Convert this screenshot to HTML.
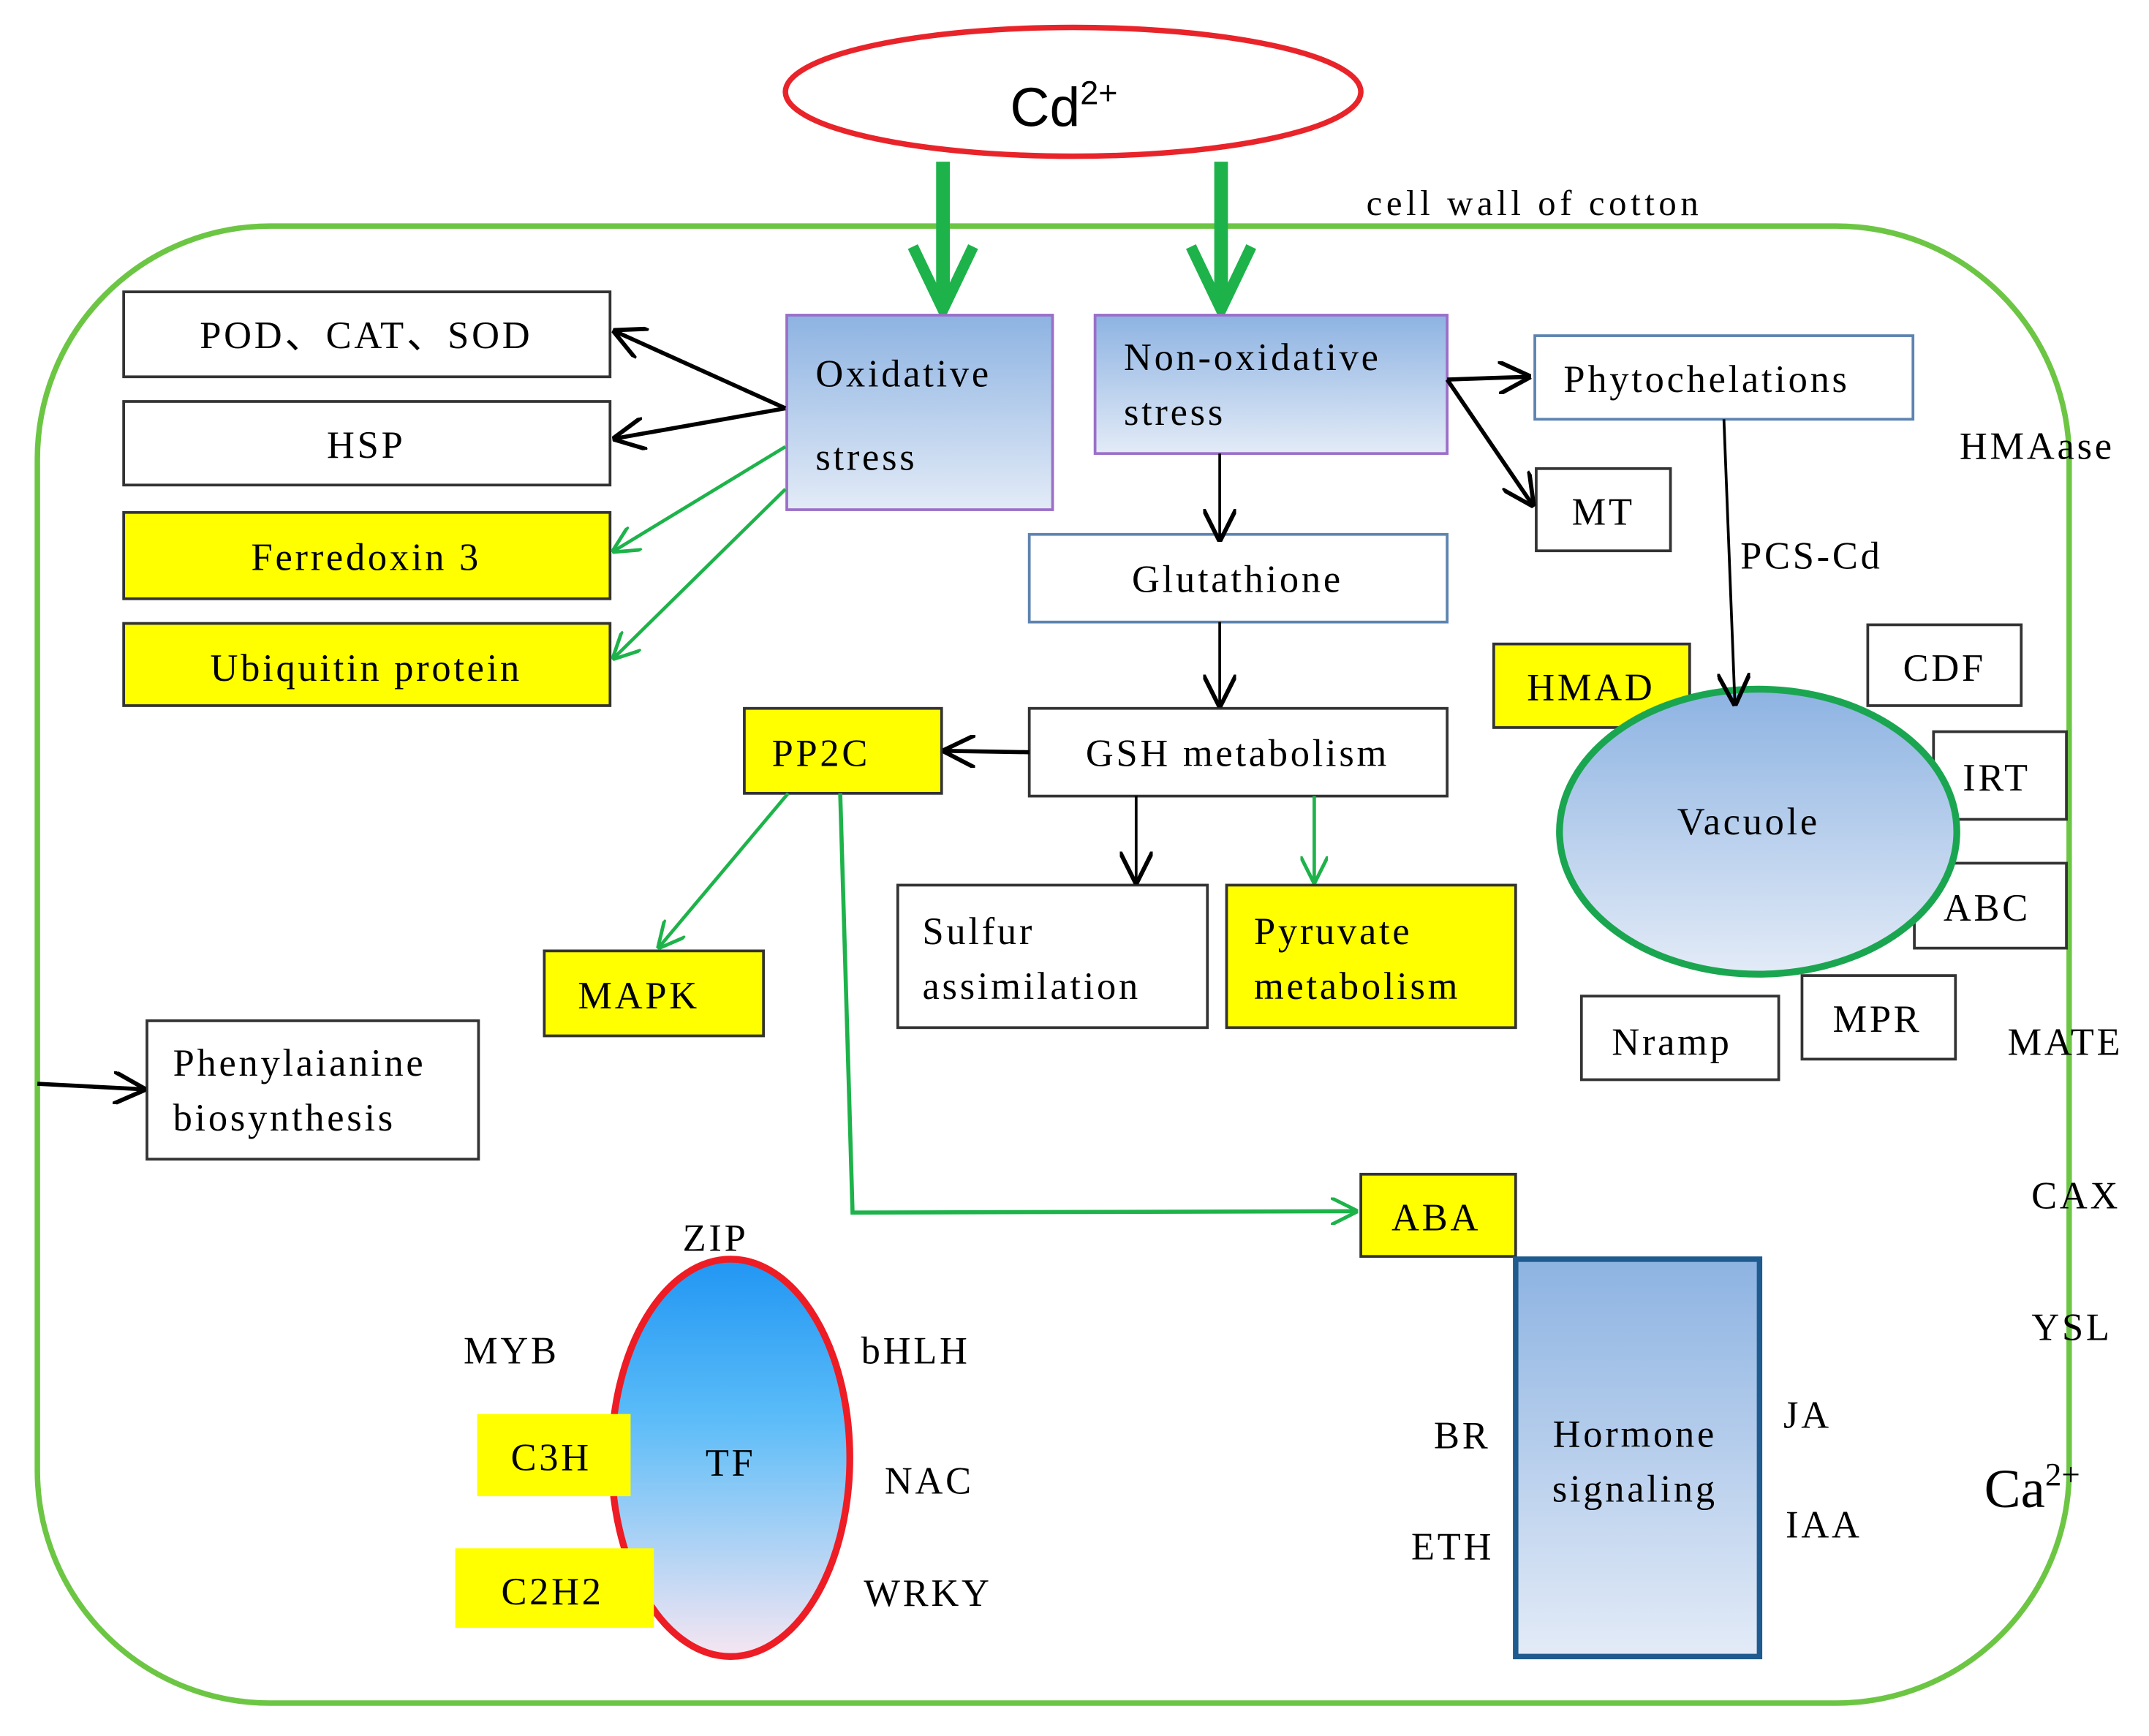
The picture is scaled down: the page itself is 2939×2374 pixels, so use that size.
<!DOCTYPE html>
<html><head><meta charset="utf-8"><style>html,body{margin:0;padding:0;background:#fff}svg{display:block}</style></head><body>
<svg width="2939" height="2374" viewBox="0 0 1568 1267" xmlns="http://www.w3.org/2000/svg" font-family="'Liberation Serif', serif" font-size="28">
<defs>
<linearGradient id="bg" x1="0" y1="0" x2="0" y2="1"><stop offset="0" stop-color="#8db3e2"/><stop offset="1" stop-color="#e3ebf7"/></linearGradient>
<linearGradient id="tf" x1="0" y1="0" x2="0" y2="1"><stop offset="0" stop-color="#2196f3"/><stop offset="0.4" stop-color="#5bbcf8"/><stop offset="1" stop-color="#f6e6f2"/></linearGradient>
<marker id="ab2" viewBox="0 0 10 10" refX="9" refY="5" markerWidth="24" markerHeight="24" orient="auto" markerUnits="userSpaceOnUse"><path d="M0,0 L10,5 L0,10" fill="none" stroke="#000" stroke-width="1.3"/></marker>
<marker id="ag" viewBox="0 0 10 10" refX="9" refY="5" markerWidth="20" markerHeight="20" orient="auto" markerUnits="userSpaceOnUse"><path d="M0,0 L10,5 L0,10" fill="none" stroke="#1db34a" stroke-width="1.3"/></marker>
</defs>
<rect x="27" y="165" width="1483" height="1078" rx="170" fill="none" stroke="#6cc644" stroke-width="4"/>
<text x="997" y="157" font-size="26" letter-spacing="3">cell wall of cotton</text>
<ellipse cx="783" cy="67" rx="210" ry="47" fill="#fff" stroke="#e8242a" stroke-width="4"/>
<text x="737" y="92" font-family="'Liberation Sans',sans-serif" font-size="40">Cd<tspan font-size="24" dy="-16">2+</tspan></text>
<g stroke="#1db34a" stroke-width="10" fill="none">
<line x1="688" y1="118" x2="688" y2="222"/><path d="M666,180 L688,226 L710,180" stroke-width="8"/>
<line x1="891" y1="118" x2="891" y2="222"/><path d="M869,180 L891,226 L913,180" stroke-width="8"/>
</g>
<g stroke="#333" stroke-width="2" fill="#fff">
<rect x="90" y="213" width="355" height="62"/><rect x="90" y="293" width="355" height="61"/>
<rect x="90" y="374" width="355" height="63" fill="#ffff00"/><rect x="90" y="455" width="355" height="60" fill="#ffff00"/>
<rect x="1121" y="342" width="98" height="60"/><rect x="1363" y="456" width="112" height="59"/>
<rect x="1090" y="470" width="143" height="61" fill="#ffff00"/>
<rect x="1411" y="534" width="97" height="64"/><rect x="1397" y="630" width="111" height="62"/>
<rect x="1315" y="712" width="112" height="61"/><rect x="1154" y="727" width="144" height="61"/>
<rect x="543" y="517" width="144" height="62" fill="#ffff00"/><rect x="751" y="517" width="305" height="64"/>
<rect x="655" y="646" width="226" height="104"/><rect x="895" y="646" width="211" height="104" fill="#ffff00"/>
<rect x="397" y="694" width="160" height="62" fill="#ffff00"/><rect x="107" y="745" width="242" height="101"/>
<rect x="993" y="857" width="113" height="60" fill="#ffff00"/>
</g>
<rect x="1120" y="245" width="276" height="61" fill="#fff" stroke="#5d84b0" stroke-width="2"/>
<rect x="751" y="390" width="305" height="64" fill="#fff" stroke="#5d84b0" stroke-width="2"/>
<rect x="574" y="230" width="194" height="142" fill="url(#bg)" stroke="#9b6fc8" stroke-width="2"/>
<rect x="799" y="230" width="257" height="101" fill="url(#bg)" stroke="#9b6fc8" stroke-width="2"/>
<rect x="1106" y="919" width="178" height="290" fill="url(#bg)" stroke="#1f5b8f" stroke-width="4"/>
<ellipse cx="1283" cy="607" rx="145" ry="104" fill="url(#bg)" stroke="#1aa650" stroke-width="5"/>
<ellipse cx="533" cy="1064" rx="87" ry="145" fill="url(#tf)" stroke="#ee1c24" stroke-width="5"/>
<rect x="348" y="1032" width="112" height="60" fill="#ffff00"/><rect x="332" y="1130" width="145" height="58" fill="#ffff00"/>
<g stroke="#000" stroke-width="3" fill="none">
<line x1="573" y1="298" x2="449" y2="242" marker-end="url(#ab2)"/><line x1="573" y1="298" x2="449" y2="320" marker-end="url(#ab2)"/>
<line x1="1056" y1="277" x2="1115" y2="275" marker-end="url(#ab2)"/><line x1="1056" y1="277" x2="1118" y2="368" marker-end="url(#ab2)"/>
<line x1="751" y1="549" x2="690" y2="548" marker-end="url(#ab2)"/><line x1="27" y1="791" x2="104" y2="795" marker-end="url(#ab2)"/>
</g>
<g stroke="#000" stroke-width="2" fill="none">
<line x1="890" y1="331" x2="890" y2="393" marker-end="url(#ab2)"/><line x1="890" y1="454" x2="890" y2="514" marker-end="url(#ab2)"/>
<line x1="829" y1="581" x2="829" y2="643" marker-end="url(#ab2)"/><line x1="1258" y1="306" x2="1266" y2="513" marker-end="url(#ab2)"/>
</g>
<g stroke="#1db34a" stroke-width="2.5" fill="none">
<line x1="573" y1="326" x2="448" y2="402" marker-end="url(#ag)"/><line x1="573" y1="357" x2="448" y2="480" marker-end="url(#ag)"/>
<line x1="959" y1="581" x2="959" y2="643" marker-end="url(#ag)"/><line x1="575" y1="579" x2="481" y2="691" marker-end="url(#ag)"/>
<polyline points="613,579 622,885 989,884" marker-end="url(#ag)" stroke-width="3"/>
</g>
<g fill="#000" letter-spacing="2">
<text x="267" y="254" text-anchor="middle">POD、CAT、SOD</text><text x="267" y="334" text-anchor="middle">HSP</text>
<text x="267" y="416" text-anchor="middle">Ferredoxin 3</text><text x="267" y="497" text-anchor="middle">Ubiquitin protein</text>
<text x="595" y="282">Oxidative</text><text x="595" y="343">stress</text>
<text x="820" y="270">Non-oxidative</text><text x="820" y="310">stress</text>
<text x="1141" y="286">Phytochelations</text><text x="1170" y="383" text-anchor="middle">MT</text>
<text x="903" y="432" text-anchor="middle">Glutathione</text>
<text x="1430" y="335">HMAase</text><text x="1270" y="415">PCS-Cd</text>
<text x="1419" y="497" text-anchor="middle">CDF</text><text x="1161" y="511" text-anchor="middle">HMAD</text>
<text x="1457" y="577" text-anchor="middle">IRT</text><text x="1276" y="609" text-anchor="middle">Vacuole</text>
<text x="1450" y="672" text-anchor="middle">ABC</text><text x="1370" y="753" text-anchor="middle">MPR</text>
<text x="1220" y="770" text-anchor="middle">Nramp</text><text x="1465" y="770">MATE</text>
<text x="599" y="559" text-anchor="middle">PP2C</text><text x="903" y="559" text-anchor="middle">GSH metabolism</text>
<text x="673" y="689">Sulfur</text><text x="673" y="729">assimilation</text>
<text x="915" y="689">Pyruvate</text><text x="915" y="729">metabolism</text>
<text x="466" y="736" text-anchor="middle">MAPK</text>
<text x="126" y="785">Phenylaianine</text><text x="126" y="825">biosynthesis</text>
<text x="1048" y="898" text-anchor="middle">ABA</text><text x="1515" y="882" text-anchor="middle">CAX</text>
<text x="1512" y="978" text-anchor="middle">YSL</text>
<text x="1448" y="1100" font-size="40" letter-spacing="0">Ca<tspan font-size="24" dy="-16">2+</tspan></text>
<text x="522" y="913" text-anchor="middle">ZIP</text><text x="373" y="995" text-anchor="middle">MYB</text>
<text x="668" y="995" text-anchor="middle">bHLH</text><text x="402" y="1073" text-anchor="middle">C3H</text>
<text x="533" y="1077" text-anchor="middle">TF</text><text x="678" y="1090" text-anchor="middle">NAC</text>
<text x="403" y="1171" text-anchor="middle">C2H2</text><text x="677" y="1172" text-anchor="middle">WRKY</text>
<text x="1067" y="1057" text-anchor="middle">BR</text><text x="1060" y="1138" text-anchor="middle">ETH</text>
<text x="1319" y="1042" text-anchor="middle">JA</text><text x="1331" y="1122" text-anchor="middle">IAA</text>
<text x="1193" y="1056" text-anchor="middle">Hormone</text><text x="1193" y="1096" text-anchor="middle">signaling</text>
</g>
</svg>
</body></html>
